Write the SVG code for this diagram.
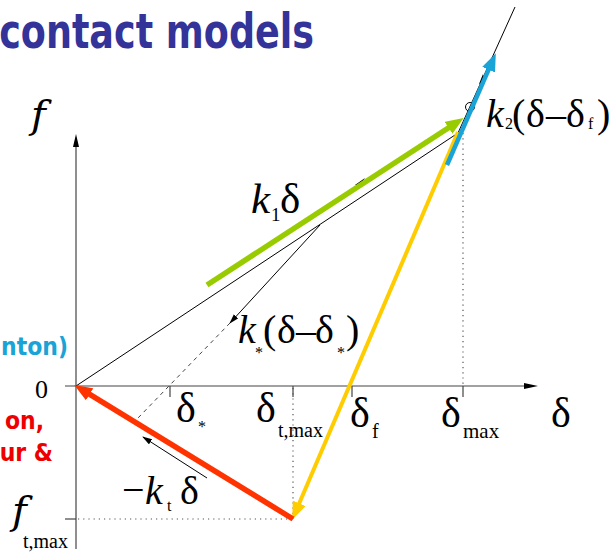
<svg xmlns="http://www.w3.org/2000/svg" width="616" height="553" viewBox="0 0 616 553">
<defs>
<style>
.ax{stroke:#444;stroke-width:1.2;fill:none}
.dot{stroke:#555;stroke-width:1.2;stroke-dasharray:1.2,4;fill:none}
.thin{stroke:#000;stroke-width:1;fill:none}
.dash{stroke:#444;stroke-width:1;stroke-dasharray:4,4;fill:none}
.m{font-family:"Liberation Serif","Times New Roman",serif;fill:#000;font-size:40px}
.i{font-style:italic}
.s{font-size:16px}
.fi{font-family:"DejaVu Serif",serif;font-style:italic;font-size:40px;fill:#000}
.h{font-family:"DejaVu Sans",Verdana,sans-serif;font-weight:bold}
</style>
<marker id="mg" markerWidth="18" markerHeight="14" refX="6" refY="7" orient="auto" markerUnits="userSpaceOnUse"><path d="M0,0 L18,7 L0,14 z" fill="#99cc00"/></marker>
<marker id="mb" markerWidth="18" markerHeight="14" refX="6" refY="7" orient="auto" markerUnits="userSpaceOnUse"><path d="M0,0 L18,7 L0,14 z" fill="#1aa3d6"/></marker>
<marker id="my" markerWidth="18" markerHeight="14" refX="6" refY="7" orient="auto" markerUnits="userSpaceOnUse"><path d="M0,0 L18,7 L0,14 z" fill="#ffcc00"/></marker>
<marker id="mr" markerWidth="18" markerHeight="14" refX="6" refY="7" orient="auto" markerUnits="userSpaceOnUse"><path d="M0,0 L18,7 L0,14 z" fill="#ff3300"/></marker>
<marker id="mk" markerWidth="10" markerHeight="8" refX="9" refY="3" orient="auto" markerUnits="userSpaceOnUse"><path d="M0,0 L10,3 L0,6 z" fill="#000"/></marker>
</defs>
<rect width="616" height="553" fill="#fff"/>

<g id="title">
<text class="h" x="314" y="48" font-size="36.5" fill="#333399" text-anchor="end" transform="translate(0,48) scale(1,1.3) translate(0,-48)">contact models</text>
</g>

<g id="side-labels">
<text class="h" x="68" y="355" font-size="22" fill="#1aa3d6" text-anchor="end" transform="translate(0,355) scale(1,1.15) translate(0,-355)">nton)</text>
<text class="h" x="44" y="429" font-size="22" fill="#ee0000" text-anchor="end" transform="translate(0,429) scale(1,1.15) translate(0,-429)">on,</text>
<text class="h" x="53" y="461" font-size="22" fill="#ee0000" text-anchor="end" transform="translate(0,461) scale(1,1.15) translate(0,-461)">ur &amp;</text>
</g>

<g id="axes">
<line class="ax" x1="76" y1="144" x2="76" y2="549"/>
<path d="M76,134 L73,147 L79,147 z" fill="#000"/>
<line class="ax" x1="65" y1="386" x2="528" y2="386"/>
<path d="M538,386 L524,383 L524,389 z" fill="#000"/>
<line class="ax" x1="65" y1="519" x2="76" y2="519"/>
<line class="ax" x1="170" y1="386" x2="170" y2="397"/>
<line class="ax" x1="293" y1="386" x2="293" y2="397"/>
<line class="ax" x1="352" y1="386" x2="352" y2="397"/>
<line class="ax" x1="463" y1="386" x2="463" y2="397"/>
<line class="dot" x1="293" y1="388" x2="293" y2="519"/>
<line class="dot" x1="463" y1="133" x2="463" y2="386"/>
<line class="dot" x1="78" y1="519" x2="293" y2="519"/>
</g>

<g id="connectors">
<line class="thin" x1="76" y1="386" x2="458" y2="133"/>
<line class="thin" x1="458" y1="133" x2="515" y2="7"/>
<line class="thin" x1="76" y1="386" x2="293" y2="519"/>
<path d="M355,185 L365,178 L360,185 z" fill="#000"/>
<path d="M479,84 L483,74 L485,82 z" fill="#000"/>
<line class="thin" x1="320" y1="225" x2="230" y2="323" marker-end="url(#mk)"/>
<line class="dash" x1="230" y1="323" x2="138" y2="418"/>
<line class="thin" x1="207" y1="478" x2="143" y2="437" marker-end="url(#mk)"/>
<circle cx="470" cy="107" r="4.5" fill="none" stroke="#000" stroke-width="1"/>
<line x1="207" y1="285" x2="453.6" y2="124.5" stroke="#99cc00" stroke-width="5.5" marker-end="url(#mg)"/>
<line x1="458" y1="132" x2="296.9" y2="508.8" stroke="#ffcc00" stroke-width="4" marker-end="url(#my)"/>
<line x1="447" y1="165" x2="491" y2="64.2" stroke="#1aa3d6" stroke-width="4.5" marker-end="url(#mb)"/>
<line x1="293" y1="519" x2="84.5" y2="391.2" stroke="#ff3300" stroke-width="5.5" marker-end="url(#mr)"/>
</g>

<g id="labels">
<text class="fi" x="31" y="128">f</text>
<text class="m" x="35" y="398" style="font-size:26px">0</text>

<text class="m"><tspan class="i" x="486" y="127">k</tspan><tspan class="s" x="505" y="129">2</tspan><tspan x="512" y="127">(</tspan><tspan x="526" y="127">δ</tspan><tspan x="546" y="127">–</tspan><tspan x="566" y="127">δ</tspan><tspan class="s" x="588" y="129">f</tspan><tspan x="597" y="127">)</tspan></text>

<text class="m" style="font-size:43px"><tspan class="i" x="251" y="213">k</tspan><tspan class="s" style="font-size:19px" x="271" y="221">1</tspan><tspan x="280" y="213">δ</tspan></text>

<text class="m"><tspan class="i" x="238" y="343">k</tspan><tspan class="s" x="255" y="358">*</tspan><tspan x="263" y="343">(</tspan><tspan x="277" y="343">δ</tspan><tspan x="296" y="343">–</tspan><tspan x="315" y="343">δ</tspan><tspan class="s" x="337" y="358">*</tspan><tspan x="346" y="343">)</tspan></text>

<text class="m" style="font-size:42px"><tspan x="176" y="422">δ</tspan><tspan class="s" x="198" y="432">*</tspan></text>
<text class="m" style="font-size:42px"><tspan x="256" y="422">δ</tspan><tspan style="font-size:20px" x="278" y="437">t,max</tspan></text>
<text class="m" style="font-size:42px"><tspan x="350" y="427">δ</tspan><tspan style="font-size:20px" x="372" y="438">f</tspan></text>
<text class="m" style="font-size:42px"><tspan x="441" y="427">δ</tspan><tspan style="font-size:21px" x="463" y="438">max</tspan></text>
<text class="m" style="font-size:42px" x="551" y="427">δ</text>

<text class="m"><tspan x="122" y="503">−</tspan><tspan class="i" x="145" y="504">k</tspan><tspan class="s" x="167" y="511">t</tspan><tspan x="180" y="504">δ</tspan></text>

<text class="fi" x="12" y="524">f</text>
<text class="m" x="23" y="548" style="font-size:20px">t,max</text>
</g>
</svg>
